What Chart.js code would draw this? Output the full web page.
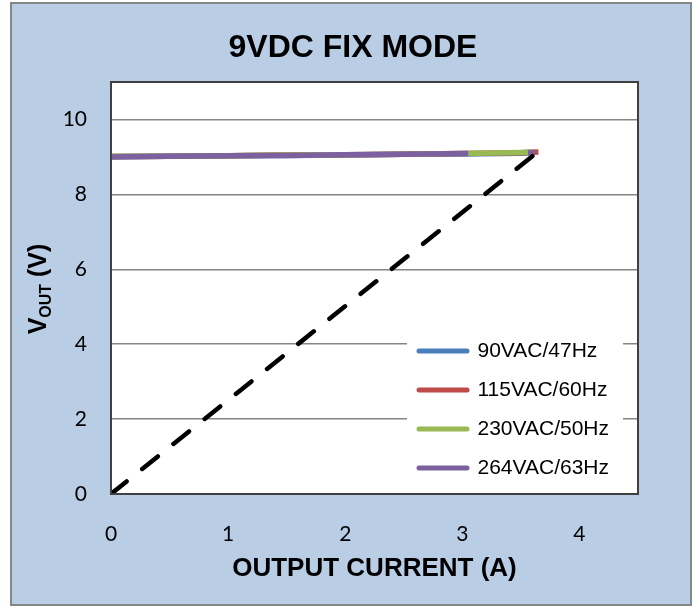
<!DOCTYPE html>
<html>
<head>
<meta charset="utf-8">
<script src="https://cdn.jsdelivr.net/npm/chart.js@4"></script>
<style>
  body { margin: 0; background: #fff; }
</style>
</head>
<body>
<canvas id="vout" width="697" height="607"></canvas>
<script>
// output current (A) / output voltage (V) per input line condition
const seriesLabels = ["90VAC/47Hz", "115VAC/60Hz", "230VAC/50Hz", "264VAC/63Hz"];
const seriesColors = ["#4a7ebb", "#be4b48", "#98b954", "#7d60a0"];

const ac90Current = [0, 0.5, 1.0, 1.5, 2.0, 2.5, 3.0, 3.5, 3.6];
const ac90Vout = [9.01, 9.02, 9.03, 9.04, 9.05, 9.07, 9.08, 9.10, 9.11];

const ac115Current = [0, 0.5, 1.0, 1.5, 2.0, 2.5, 3.0, 3.5, 3.65];
const ac115Vout = [9.01, 9.02, 9.03, 9.05, 9.06, 9.07, 9.09, 9.11, 9.13];

const ac230Current = [0, 0.5, 1.0, 1.5, 2.0, 2.5, 3.0, 3.5, 3.6];
const ac230Vout = [9.01, 9.02, 9.03, 9.05, 9.06, 9.07, 9.09, 9.12, 9.13];

const ac264Current = [0, 0.5, 1.0, 1.5, 2.0, 2.5, 3.05, 3.3, 3.56, 3.62];
const ac264Vout = [9.00, 9.02, 9.03, 9.04, 9.06, 9.07, 9.09, null, 9.11, 9.12];

// constant power limit line
const limitCurrent = [0, 3.65];
const limitVout = [0, 9.15];

const xTicks = [0, 1, 2, 3, 4];
const yTicks = [0, 2, 4, 6, 8, 10];

const toPoints = (xs, ys) => xs.map((x, i) => ({ x: x, y: ys[i] }));

const currents = [ac90Current, ac115Current, ac230Current, ac264Current];
const vouts = [ac90Vout, ac115Vout, ac230Vout, ac264Vout];
const drawOrder = [4, 3, 2, 1];

const datasets = seriesLabels.map((label, i) => ({
    label: label,
    data: toPoints(currents[i], vouts[i]),
    borderColor: seriesColors[i],
    backgroundColor: seriesColors[i],
    borderWidth: 5.5,
    pointRadius: 0,
    pointHoverRadius: 0,
    pointBorderWidth: 5,
    pointBorderColor: seriesColors[i],
    order: drawOrder[i],
}));

datasets.push({
    label: "limit",
    data: toPoints(limitCurrent, limitVout),
    borderColor: "#000",
    borderWidth: 4.5,
    borderDash: [20, 20],
    borderCapStyle: "round",
    pointRadius: 0,
    pointHoverRadius: 0,
    order: 0,
});

const sans = '"Liberation Sans", Arial, sans-serif';

// blue panel, white plot area, title and legend placement
const panel = {
    id: "panel",
    beforeDraw(chart) {
        const { ctx, chartArea: a } = chart;
        ctx.save();
        ctx.fillStyle = "#fff";
        ctx.fillRect(0, 0, chart.width, chart.height);
        ctx.fillStyle = "#b9cde5";
        ctx.fillRect(11, 3, 680, 602);
        ctx.strokeStyle = "#868686";
        ctx.lineWidth = 2;
        ctx.strokeRect(11, 3, 680, 602);
        ctx.fillStyle = "#fff";
        ctx.fillRect(a.left, a.top, a.width, a.height);
        ctx.restore();

        chart.titleBlock.left = 68;
        chart.titleBlock.right = 638;

        const lg = chart.legend;
        lg.left = 401;
        lg.top = 322.5;
        lg.right = 640;
        lg.bottom = 600;
    },
    beforeDatasetsDraw(chart) {
        // legend sits on a white patch over the gridlines
        const { ctx, chartArea: a } = chart;
        ctx.save();
        ctx.fillStyle = "#fff";
        ctx.fillRect(407, 330, 216, a.bottom - 330);
        ctx.restore();
        chart.legend.draw();
    },
    afterDatasetsDraw(chart) {
        const { ctx, chartArea: a } = chart;
        ctx.save();
        ctx.strokeStyle = "#404040";
        ctx.lineWidth = 2;
        ctx.strokeRect(a.left, a.top, a.width, a.height);
        ctx.restore();
    },
    afterDraw(chart) {
        // rotated "V OUT (V)" with subscript
        const ctx = chart.ctx;
        const big = "bold 25px " + sans;
        const small = "bold 16px " + sans;
        ctx.save();
        ctx.translate(46, 289);
        ctx.rotate(-Math.PI / 2);
        ctx.fillStyle = "#000";
        ctx.textBaseline = "alphabetic";
        ctx.font = big;
        const wV = ctx.measureText("V").width;
        const wRest = ctx.measureText(" (V)").width;
        ctx.font = small;
        const wSub = ctx.measureText("OUT").width;
        let x = -(wV + wSub + wRest) / 2;
        ctx.font = big;
        ctx.fillText("V", x, 0);
        x += wV;
        ctx.font = small;
        ctx.fillText("OUT", x, 5);
        x += wSub;
        ctx.font = big;
        ctx.fillText(" (V)", x, 0);
        ctx.restore();
    },
};

new Chart(document.getElementById("vout"), {
    type: "line",
    data: { datasets: datasets },
    plugins: [panel],
    options: {
        responsive: false,
        animation: false,
        events: [],
        layout: { padding: { left: 0, right: 59, top: 0, bottom: 0 } },
        elements: { line: { tension: 0 } },
        scales: {
            x: {
                type: "linear",
                min: 0,
                max: 4.5,
                afterFit: (scale) => { scale.height = 113; },
                afterBuildTicks: (scale) => { scale.ticks = xTicks.map((v) => ({ value: v })); },
                grid: { display: false, drawTicks: false },
                border: { display: false },
                ticks: {
                    padding: 28,
                    color: "#000",
                    font: { family: "Lato, sans-serif", size: 21 },
                },
                title: {
                    display: true,
                    text: "OUTPUT CURRENT (A)",
                    color: "#000",
                    font: { family: sans, size: 26, weight: "bold" },
                    padding: { top: 0, bottom: 23 },
                },
            },
            y: {
                min: 0,
                max: 11,
                afterFit: (scale) => { scale.width = 111; },
                afterBuildTicks: (scale) => { scale.ticks = yTicks.map((v) => ({ value: v })); },
                grid: { color: "#868686", lineWidth: 1.5, drawTicks: false },
                border: { display: false },
                ticks: {
                    padding: 24,
                    color: "#000",
                    font: { family: "Lato, sans-serif", size: 21 },
                },
            },
        },
        plugins: {
            title: {
                display: true,
                text: "9VDC FIX MODE",
                color: "#000",
                font: { family: sans, size: 32, weight: "bold" },
                padding: { top: 28.8, bottom: 14.8 },
            },
            legend: {
                position: "chartArea",
                align: "start",
                labels: {
                    usePointStyle: true,
                    pointStyle: "line",
                    pointStyleWidth: 48,
                    padding: 18,
                    color: "#000",
                    font: { family: sans, size: 21 },
                    filter: (item) => item.datasetIndex < seriesLabels.length,
                    sort: (a, b) => a.datasetIndex - b.datasetIndex,
                    generateLabels: (chart) =>
                        Chart.defaults.plugins.legend.labels.generateLabels(chart)
                            .map((item) => ({ ...item, lineCap: "round" })),
                },
            },
            tooltip: { enabled: false },
        },
    },
});
</script>
</body>
</html>
